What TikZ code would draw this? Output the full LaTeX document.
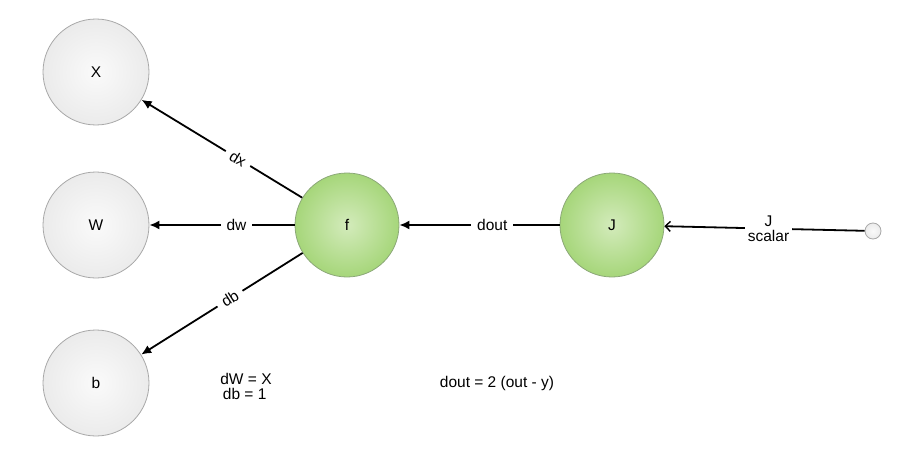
\documentclass[tikz,border=0pt]{standalone}
\usepackage{fontspec}
\setmainfont{Liberation Sans}
\usetikzlibrary{arrows.meta}
\definecolor{greyfill}{HTML}{EBEBEB}
\definecolor{greyin}{HTML}{FAFAFA}
\definecolor{greyline}{HTML}{A8A8A8}
\definecolor{greenout}{HTML}{A6D67A}
\definecolor{greenin}{HTML}{D3EBBB}
\definecolor{greenline}{HTML}{8CA878}
\tikzset{
  x=1pt,y=-1pt,
  every node/.style={font=\fontsize{15.5}{18}\selectfont},
  greynode/.style={circle,draw=greyline,line width=0.8pt,inner color=greyin,outer color=greyfill,minimum size=106pt,inner sep=0pt},
  greennode/.style={circle,draw=greenline,line width=0.8pt,inner color=greenin,outer color=greenout,minimum size=104pt,inner sep=0pt},
  smallnode/.style={circle,draw=greyline,line width=0.8pt,inner color=greyin,outer color=greyfill,minimum size=16pt,inner sep=0pt},
  arr/.style={line width=1.8pt,-{Latex[length=10pt,width=9pt]}},
  openarr/.style={line width=1.8pt,-{Straight Barb[length=5pt,width=10pt,line width=1.4pt]}},
  lbl/.style={fill=white,inner sep=6pt},
}
\begin{document}
\begin{tikzpicture}
\useasboundingbox (0,0) rectangle (898,463);
\node[greynode] (X) at (96,72) {X};
\node[greynode] (W) at (96,225) {W};
\node[greynode] (b) at (96,383) {b};
\node[greennode] (f) at (347,225) {f};
\node[greennode] (J) at (612,225) {J};
\node[smallnode] (s) at (873,231) {};
\draw[arr] (f) -- node[lbl,sloped,pos=0.4] {dx} (X);
\draw[arr] (f) -- node[lbl,pos=0.4] {dw} (W);
\draw[arr] (f) -- node[lbl,sloped,pos=0.45] {db} (b);
\draw[arr] (J) -- node[lbl,pos=0.42] {dout} (f);
\draw[openarr] (s) -- node[lbl,align=center,inner sep=3pt,pos=0.48] {J\\[-3pt]scalar} (J);
\node[align=left] (eq1) at (246,386) {dW = X\\[-3pt]\,db = 1};
\node (eq2) at (497,383) {dout = 2 (out - y)};
\end{tikzpicture}
\end{document}
